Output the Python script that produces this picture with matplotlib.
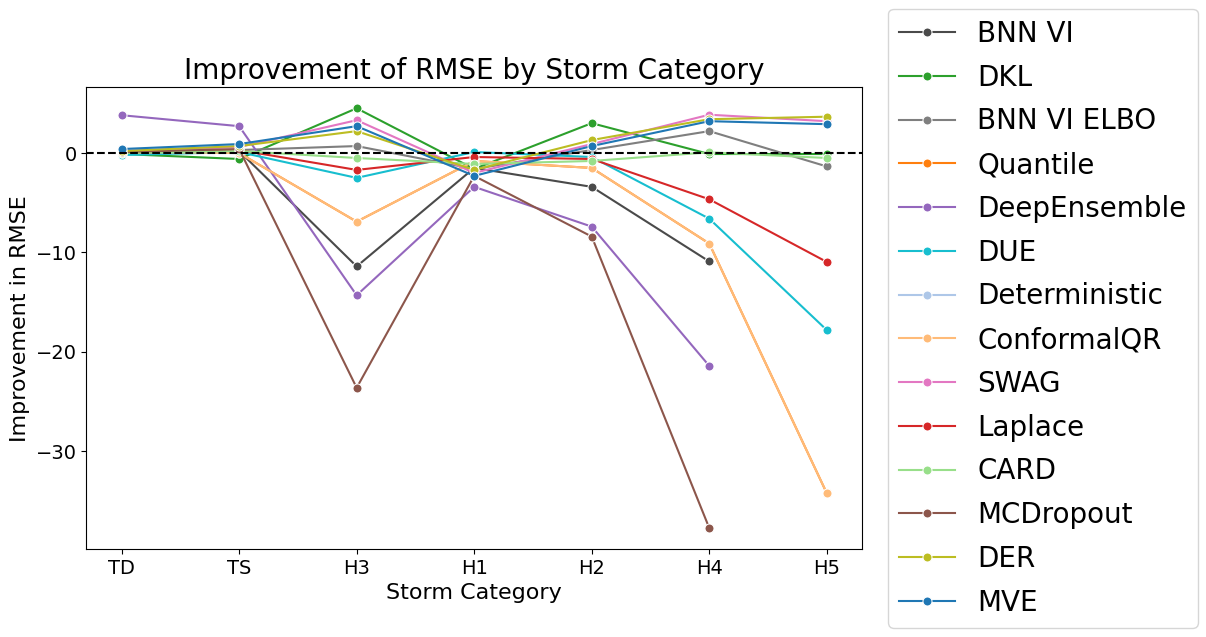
import numpy as np
import matplotlib
matplotlib.use("Agg")
import matplotlib.pyplot as plt

nan = np.nan
categories = ["TD", "TS", "H3", "H1", "H2", "H4", "H5"]

methods = ["BNN VI", "DKL", "BNN VI ELBO", "Quantile", "DeepEnsemble", "DUE",
           "Deterministic", "ConformalQR", "SWAG", "Laplace", "CARD",
           "MCDropout", "DER", "MVE"]

bnn_vi        = [-0.1, 0.2, -11.4, -1.5, -3.4, -10.9, nan]
dkl           = [-0.1, -0.6, 4.5, -1.6, 3.0, -0.1, -0.1]
bnn_vi_elbo   = [0.0, 0.3, 0.7, -1.6, 0.3, 2.2, -1.35]
quantile      = [0.1, 0.0, -6.9, -0.8, -1.5, -9.1, -34.2]
deep_ensemble = [3.8, 2.7, -14.3, -3.4, -7.4, -21.4, nan]
due           = [-0.2, 0.1, -2.5, 0.1, -0.4, -6.6, -17.8]
deterministic = [nan, nan, nan, nan, nan, nan, nan]
conformal_qr  = [0.1, 0.0, -6.9, -0.8, -1.5, -9.1, -34.2]
swag          = [0.2, 0.6, 3.3, -2.0, 0.9, 3.85, 3.2]
laplace       = [0.0, 0.3, -1.7, -0.4, -0.6, -4.65, -10.95]
card          = [0.0, 0.2, -0.5, -1.1, -0.8, 0.07, -0.5]
mc_dropout    = [0.1, 0.4, -23.6, -2.3, -8.4, -37.7, nan]
der           = [0.2, 0.7, 2.2, -1.7, 1.3, 3.4, 3.65]
mve           = [0.4, 0.9, 2.7, -2.3, 0.7, 3.2, 2.9]

series = [bnn_vi, dkl, bnn_vi_elbo, quantile, deep_ensemble, due, deterministic,
          conformal_qr, swag, laplace, card, mc_dropout, der, mve]
colors = ["#4a4a4a", "#2ca02c", "#7f7f7f", "#ff7f0e", "#9467bd", "#17becf",
          "#aec7e8", "#ffbb78", "#e377c2", "#d62728", "#98df8a", "#8c564b",
          "#bcbd22", "#1f77b4"]

fig = plt.figure(figsize=(12.06, 6.37), dpi=100)
ax = fig.add_axes([0.0716, 0.1381, 0.6432, 0.7249])

x = np.arange(len(categories))
for name, vals, c in zip(methods, series, colors):
    ax.plot(x, vals, color=c, lw=1.5, marker="o", markersize=6.5,
            markeredgecolor="white", markeredgewidth=0.75, label=name)

ax.axhline(0, color="black", linestyle="--", lw=1.5)
ax.set_xticks(x)
ax.set_xticklabels(categories)
ax.tick_params(labelsize=14)
ax.set_xlabel("Storm Category", fontsize=16)
ax.set_ylabel("Improvement in RMSE", fontsize=16)
ax.set_title("Improvement of RMSE by Storm Category", fontsize=20)
ax.legend(loc="center left", bbox_to_anchor=(1.016, 0.5), fontsize=20,
          labelspacing=0.567)

fig.savefig("out.png", dpi=100)
